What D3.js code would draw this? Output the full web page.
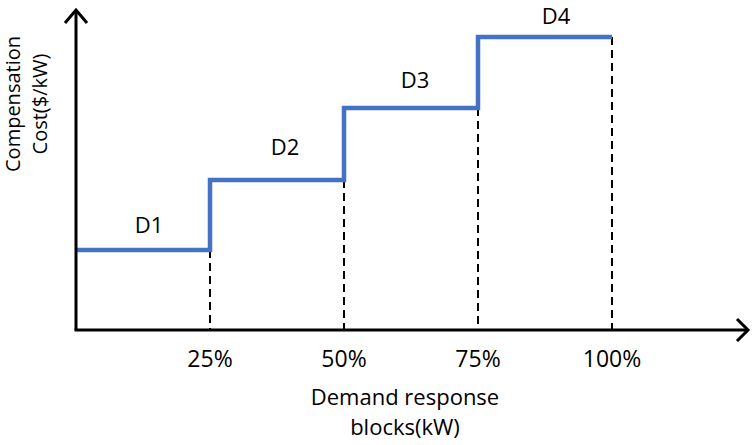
<!DOCTYPE html>
<html>
<head>
<meta charset="utf-8">
<script src="https://cdnjs.cloudflare.com/ajax/libs/d3/7.8.5/d3.min.js"></script>
<style>
  body { margin: 0; background: #fff; }
  text { font-family: "Open Sans", Lato, sans-serif; fill: #000; }
</style>
</head>
<body>
<svg id="chart" width="753" height="445"></svg>
<script>
// block boundaries (% of demand response) and the cost level of each block
const blockEdges = [0, 25, 50, 75, 100];
const blockNames = ["D1", "D2", "D3", "D4"];
const blockCosts = [80, 150, 222, 293];
const tickLabels = ["25%", "50%", "75%", "100%"];

// hand placement of the block labels, pixels from the centre of each step
const labelNudge = [[6, -17], [8, -25], [4, -20], [11, -13]];

const svg = d3.select("#chart");

const x = d3.scaleLinear().domain([0, 100]).range([76, 612]);
const y = d3.scaleLinear().domain([0, 320]).range([330, 10]);

const x0 = x(0), y0 = y(0);

// dashed drop lines at each block end
svg.append("g").selectAll("line")
  .data(blockEdges.slice(1)).enter().append("line")
  .attr("x1", d => x(d)).attr("x2", d => x(d))
  .attr("y1", (d, i) => y(blockCosts[i])).attr("y2", y0)
  .attr("stroke", "#000").attr("stroke-width", 2)
  .attr("stroke-dasharray", "8,5");

// step line
const stepPts = [];
blockCosts.forEach((c, i) => {
  stepPts.push([x(blockEdges[i]), y(c)]);
  stepPts.push([x(blockEdges[i + 1]), y(c)]);
});
svg.append("path")
  .attr("d", d3.line()(stepPts))
  .attr("fill", "none")
  .attr("stroke", "#4472C4")
  .attr("stroke-width", 4.5)
  .attr("stroke-linejoin", "miter");

// axes with open arrow heads
const axisG = svg.append("g").attr("stroke", "#000").attr("stroke-width", 3).attr("fill", "none");
axisG.append("path").attr("d", `M${x0},${y0}V10`);
axisG.append("path").attr("d", `M${x0 - 11},23L${x0},10L${x0 + 11},23`);
axisG.append("path").attr("d", `M${x0 - 1.5},${y0}H748`);
axisG.append("path").attr("d", `M737,${y0 - 11}L748,${y0}L737,${y0 + 11}`);

// block labels
svg.append("g").selectAll("text")
  .data(blockNames).enter().append("text")
  .attr("x", (d, i) => (x(blockEdges[i]) + x(blockEdges[i + 1])) / 2 + labelNudge[i][0])
  .attr("y", (d, i) => y(blockCosts[i]) + labelNudge[i][1])
  .attr("text-anchor", "middle")
  .attr("font-size", 22)
  .text(d => d);

// tick labels
svg.append("g").selectAll("text")
  .data(tickLabels).enter().append("text")
  .attr("x", (d, i) => x(blockEdges[i + 1]))
  .attr("y", 367)
  .attr("text-anchor", "middle")
  .attr("font-size", 23)
  .text(d => d);

// axis titles
const xTitle = svg.append("text")
  .attr("text-anchor", "middle").attr("font-size", 22);
xTitle.append("tspan").attr("x", 405).attr("y", 405).text("Demand response");
xTitle.append("tspan").attr("x", 405).attr("y", 435).text("blocks(kW)");

const yTitle = svg.append("text")
  .attr("transform", "translate(0,104) rotate(-90)")
  .attr("text-anchor", "middle").attr("font-size", 20);
yTitle.append("tspan").attr("x", 0).attr("y", 20).text("Compensation");
yTitle.append("tspan").attr("x", 0).attr("y", 47).text("Cost($/kW)");
</script>
</body>
</html>
